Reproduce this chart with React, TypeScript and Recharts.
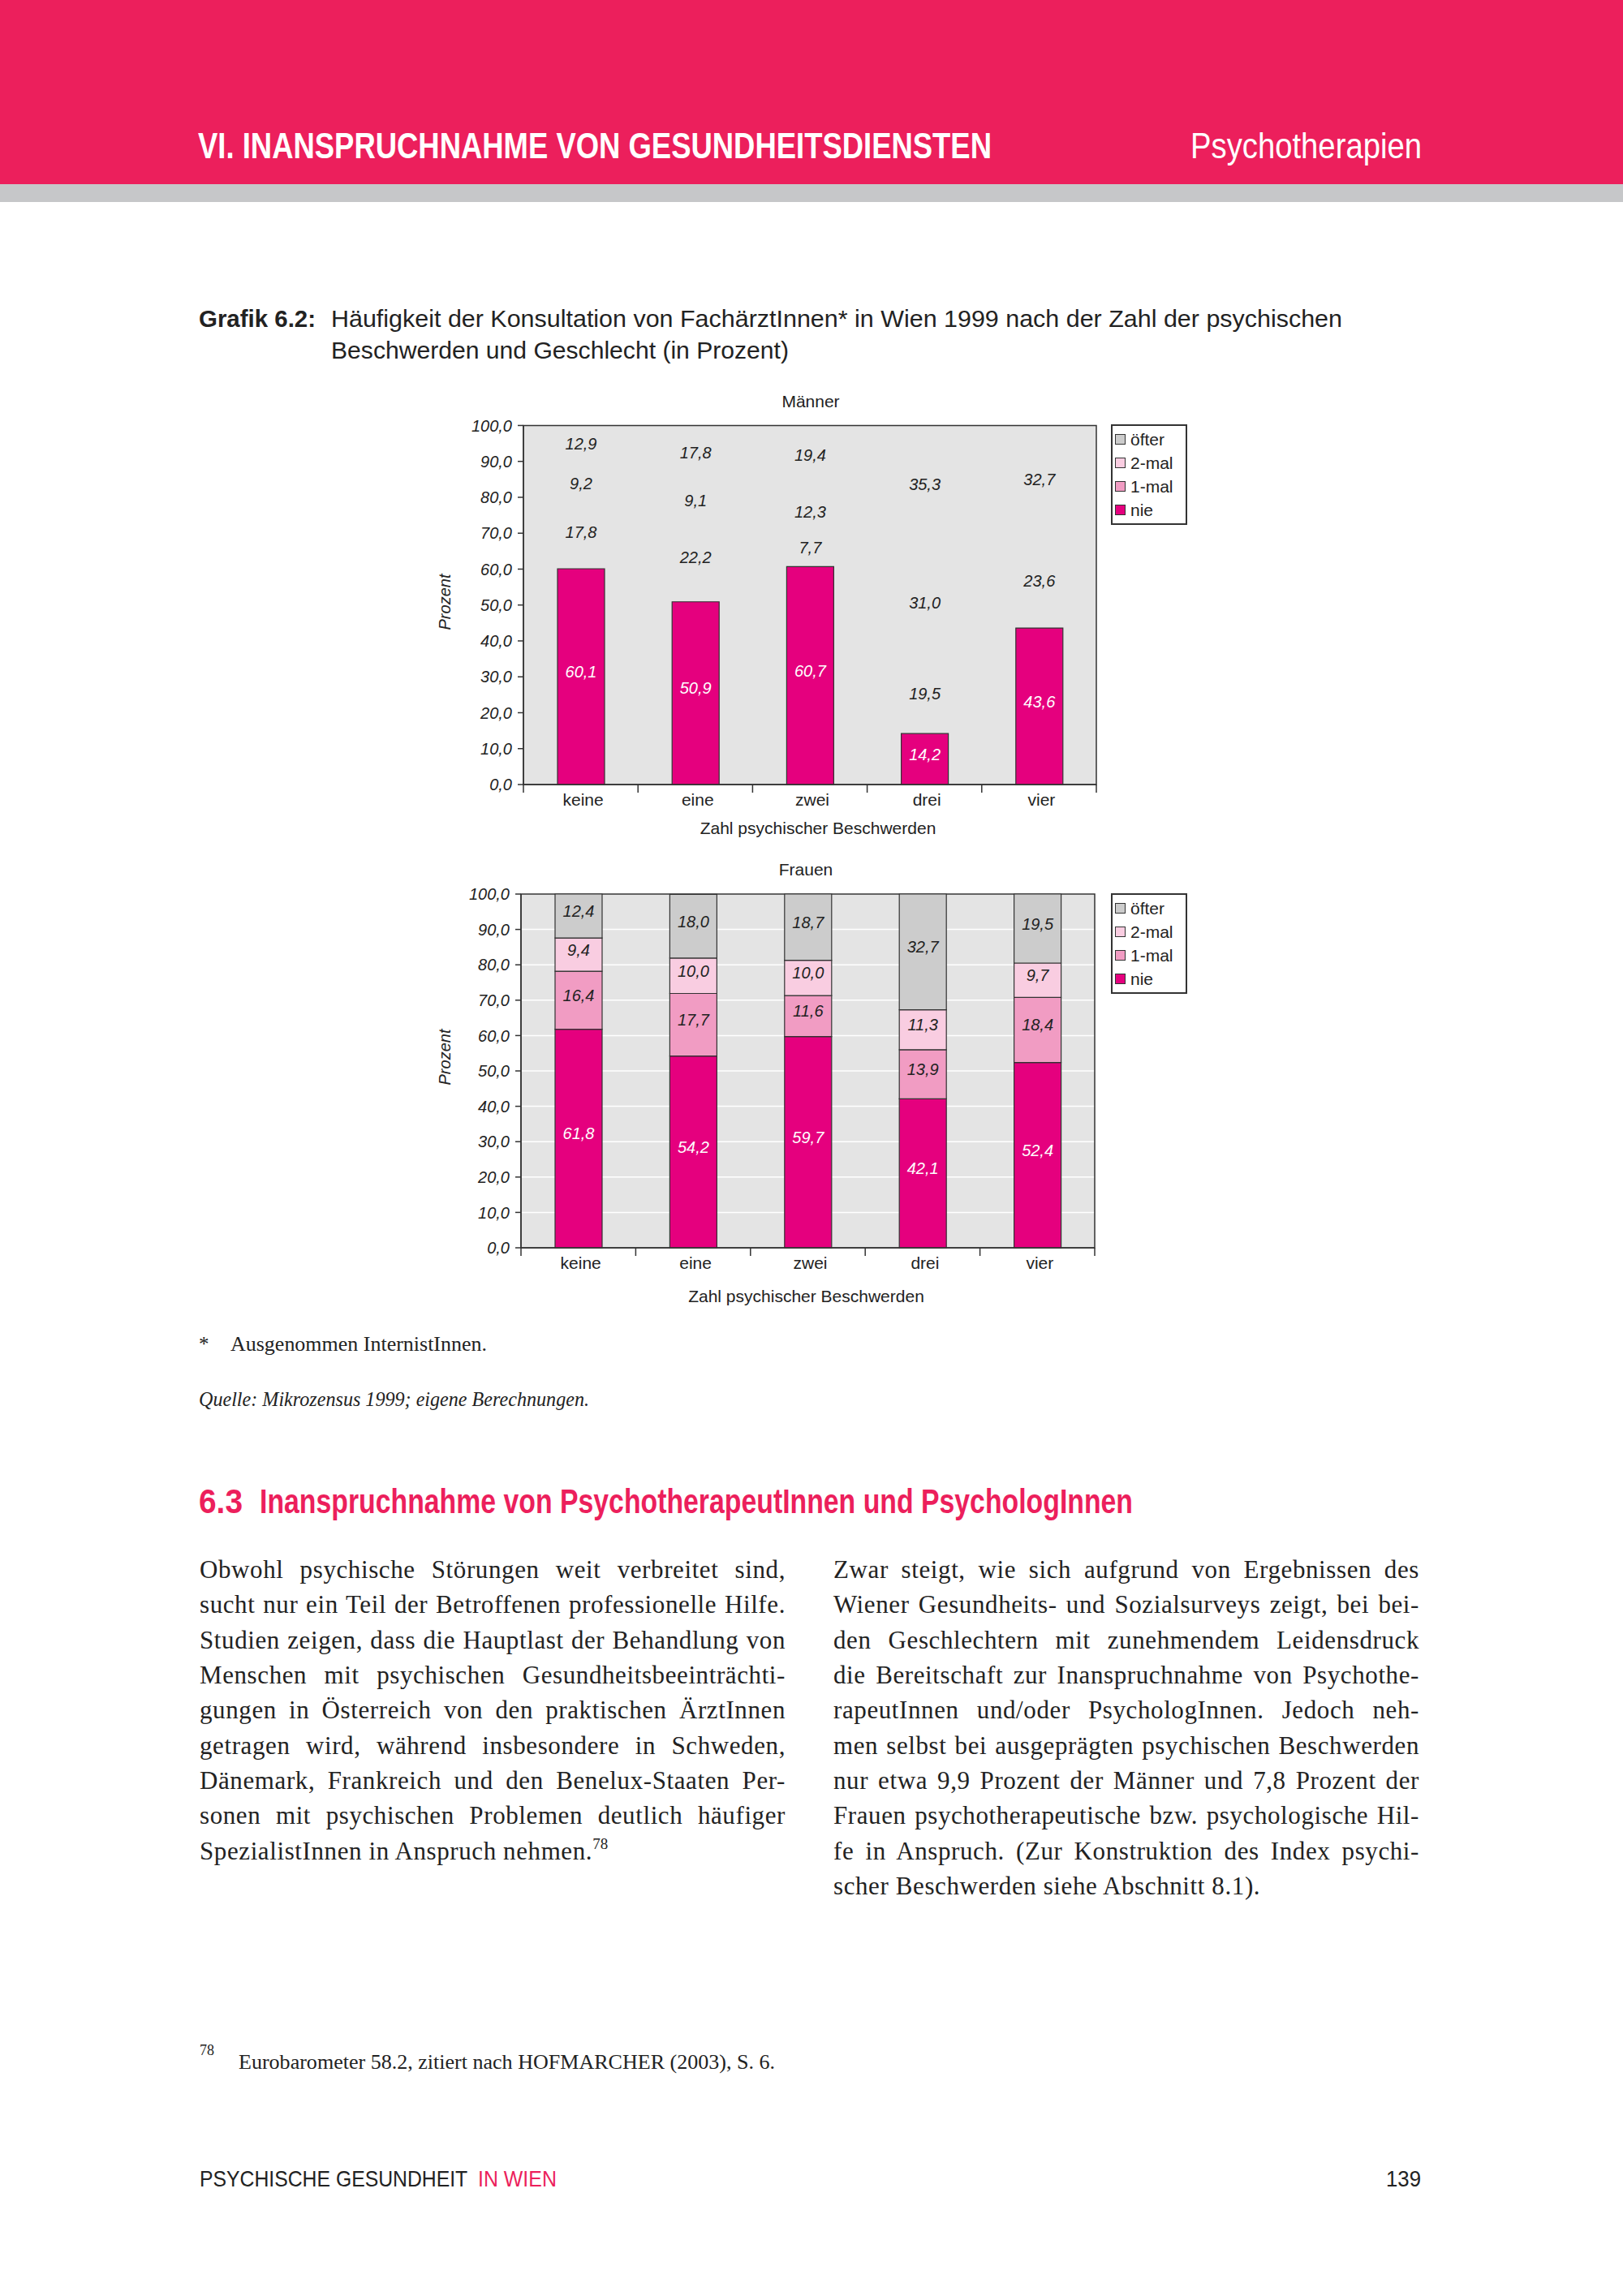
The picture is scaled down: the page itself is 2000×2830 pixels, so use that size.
import React from 'react';
import { BarChart, Bar, XAxis, YAxis, CartesianGrid, LabelList, Legend, ReferenceArea, Label } from 'recharts';

// ---------- data ----------
const categories = ['keine', 'eine', 'zwei', 'drei', 'vier'];

const menNie = [60.1, 50.9, 60.7, 14.2, 43.6];
const menEinmal = [17.8, 22.2, 7.7, 19.5, 23.6];
const menZweimal = [9.2, 9.1, 12.3, 31.0, 0.0];
const menOefter = [12.9, 17.8, 19.4, 35.3, 32.7];

const womenNie = [61.8, 54.2, 59.7, 42.1, 52.4];
const womenEinmal = [16.4, 17.7, 11.6, 13.9, 18.4];
const womenZweimal = [9.4, 10.0, 10.0, 11.3, 9.7];
const womenOefter = [12.4, 18.0, 18.7, 32.7, 19.5];

const yTicks = [0, 10, 20, 30, 40, 50, 60, 70, 80, 90, 100];
const seriesKeys = ['nie', 'einmal', 'zweimal', 'oefter'];
const seriesNames = ['nie', '1-mal', '2-mal', 'öfter'];

const leftLines = [
  'Obwohl psychische Störungen weit verbreitet sind,',
  'sucht nur ein Teil der Betroffenen professionelle Hilfe.',
  'Studien zeigen, dass die Hauptlast der Behandlung von',
  'Menschen mit psychischen Gesundheitsbeeinträchti-',
  'gungen in Österreich von den praktischen ÄrztInnen',
  'getragen wird, während insbesondere in Schweden,',
  'Dänemark, Frankreich und den Benelux-Staaten Per-',
  'sonen mit psychischen Problemen deutlich häufiger',
  'SpezialistInnen in Anspruch nehmen.',
];
const rightLines = [
  'Zwar steigt, wie sich aufgrund von Ergebnissen des',
  'Wiener Gesundheits- und Sozialsurveys zeigt, bei bei-',
  'den Geschlechtern mit zunehmendem Leidensdruck',
  'die Bereitschaft zur Inanspruchnahme von Psychothe-',
  'rapeutInnen und/oder PsychologInnen. Jedoch neh-',
  'men selbst bei ausgeprägten psychischen Beschwerden',
  'nur etwa 9,9 Prozent der Männer und 7,8 Prozent der',
  'Frauen psychotherapeutische bzw. psychologische Hil-',
  'fe in Anspruch. (Zur Konstruktion des Index psychi-',
  'scher Beschwerden siehe Abschnitt 8.1).',
];

// ---------- styles ----------
const SANS = '"Liberation Sans", Arial, Helvetica, sans-serif';
const SERIF = '"Liberation Serif", "Times New Roman", serif';
const PINK = '#EC1F5C';
const COLORS: Record<string, string> = {
  nie: '#E5007E',
  einmal: '#F19CC3',
  zweimal: '#F9CDE1',
  oefter: '#CCCCCC',
};
const PLOT_BG = '#E4E4E4';
const DARK = '#333333';

const fmt = (v: number) => Number(v).toFixed(1).replace('.', ',');

const buildData = (a: number[], b: number[], c: number[], d: number[]) =>
  categories.map((cat, i) => ({ cat, nie: a[i], einmal: b[i], zweimal: c[i], oefter: d[i] }));

const menData = buildData(menNie, menEinmal, menZweimal, menOefter);
const womenData = buildData(womenNie, womenEinmal, womenZweimal, womenOefter);

const makeBarLabel = (color: string) => (props: any) => {
  const { x, y, width, height, value } = props;
  const v = Number(value);
  const cx = Number(x) + Number(width) / 2 + (v === 0 ? 49 : 0);
  const cy = Number(y) + Number(height) / 2 - 6;
  return (
    <text x={cx} y={cy} textAnchor="middle" dominantBaseline="central" fill={color}
      fontSize={20} fontStyle="italic" fontFamily={SANS}>
      {fmt(v)}
    </text>
  );
};

const LegendBox = (props: any) => {
  const payload: any[] = props.payload || [];
  const nameOf = (k: string) => {
    const p = payload.find((it: any) => String(it.dataKey) === k);
    return p ? p.value : seriesNames[seriesKeys.indexOf(k)];
  };
  const order = [...seriesKeys].reverse();
  return (
    <div style={{
      border: `2px solid ${DARK}`, background: '#fff', width: 94, boxSizing: 'border-box',
      padding: '2px 0 2px 3px', fontFamily: SANS, fontSize: 21, lineHeight: '29px', color: '#222',
    }}>
      {order.map((k) => (
        <div key={k} style={{ whiteSpace: 'nowrap', height: 29 }}>
          <span style={{
            display: 'inline-block', width: 11, height: 11, background: COLORS[k],
            border: `1.5px solid ${DARK}`, marginRight: 6, verticalAlign: 'middle', position: 'relative', top: -2,
          }} />
          {nameOf(k)}
        </div>
      ))}
    </div>
  );
};

type ChartCfg = {
  data: any[];
  showUpper: boolean;
  grid: boolean;
  top: number;
  right: number;
  yWidth: number;
  xHeight: number;
  legendTop: number;
  prozentY: number;
  xLabelDx: number;
  xLabelDy: number;
};

const StackChart = ({ cfg }: { cfg: ChartCfg }) => {
  const plotW = 960 - cfg.yWidth - cfg.right;
  const catW = plotW / categories.length;

  const XTick = (props: any) => {
    const { x, y, index, payload } = props;
    const last = index === categories.length - 1;
    return (
      <g>
        <line x1={x - catW / 2} x2={x - catW / 2} y1={y} y2={y + 10} stroke={DARK} strokeWidth={1.5} />
        {last && <line x1={x + catW / 2} x2={x + catW / 2} y1={y} y2={y + 10} stroke={DARK} strokeWidth={1.5} />}
        <text x={x + 3} y={y + 26} textAnchor="middle" fill="#222" fontSize={21} fontFamily={SANS}>
          {payload.value}
        </text>
      </g>
    );
  };

  const XLabel = (props: any) => {
    const vb = props.viewBox || {};
    return (
      <text x={vb.x + vb.width / 2 + cfg.xLabelDx} y={vb.y + cfg.xLabelDy} textAnchor="middle"
        fill="#222" fontSize={21} fontFamily={SANS}>
        Zahl psychischer Beschwerden
      </text>
    );
  };

  const YLabel = () => (
    <text x={28} y={cfg.prozentY} transform={`rotate(-90, 28, ${cfg.prozentY})`} textAnchor="middle"
      dominantBaseline="central" fill="#222" fontSize={20} fontStyle="italic" fontFamily={SANS}>
      Prozent
    </text>
  );

  return (
    <BarChart width={960} height={570} data={cfg.data}
      margin={{ top: cfg.top, right: cfg.right, left: 0, bottom: 0 }} barSize={58}>
      <CartesianGrid vertical={false} horizontal={cfg.grid} stroke="#FFFFFF" strokeWidth={1.5} fill={PLOT_BG} fillOpacity={1} />
      <XAxis dataKey="cat" height={cfg.xHeight} tickLine={false} tickSize={0} tickMargin={0}
        axisLine={{ stroke: DARK, strokeWidth: 1.5 }} tick={<XTick />} interval={0}
        label={<Label content={<XLabel />} />} />
      <YAxis domain={[0, 100]} ticks={yTicks} tickFormatter={fmt} width={cfg.yWidth} interval={0}
        tickSize={7} tickMargin={7} axisLine={{ stroke: DARK, strokeWidth: 1.5 }}
        tickLine={{ stroke: DARK, strokeWidth: 1.5 }}
        tick={{ fill: '#222', fontSize: 20, fontStyle: 'italic', fontFamily: SANS }}
        label={<Label content={<YLabel />} />} />
      {seriesKeys.map((k, i) => {
        const visible = cfg.showUpper || k === 'nie';
        return (
          <Bar key={k} dataKey={k} name={seriesNames[i]} stackId="a" isAnimationActive={false}
            fill={visible ? COLORS[k] : 'transparent'} stroke={visible ? DARK : 'none'} strokeWidth={1.2}>
            <LabelList dataKey={k} content={makeBarLabel(k === 'nie' ? '#FFFFFF' : '#222')} />
          </Bar>
        );
      })}
      <ReferenceArea y1={0} y2={100} fill="none" stroke={DARK} strokeWidth={1.5} ifOverflow="visible" />
      <Legend layout="vertical" align="center" verticalAlign="middle" content={<LegendBox />}
        wrapperStyle={{ left: 849, top: cfg.legendTop, width: 94 }} />
    </BarChart>
  );
};

const menCfg: ChartCfg = {
  data: menData, showUpper: false, grid: false, top: 54, right: 129, yWidth: 125, xHeight: 73,
  legendTop: 53, prozentY: 272, xLabelDx: 10, xLabelDy: 61,
};
const womenCfg: ChartCfg = {
  data: womenData, showUpper: true, grid: true, top: 52, right: 131, yWidth: 122, xHeight: 82,
  legendTop: 51, prozentY: 253, xLabelDx: -2, xLabelDy: 67,
};

const BodyColumn = ({ lines, left, sup }: { lines: string[]; left: number; sup?: string }) => (
  <div style={{
    position: 'absolute', left, top: 1913, width: 722, fontFamily: SERIF, fontSize: 31, color: '#222',
    letterSpacing: '0.6px',
  }}>
    {lines.map((l, i) => {
      const last = i === lines.length - 1;
      return (
        <div key={i} style={{
          height: 43.33, lineHeight: '43.33px', whiteSpace: 'nowrap', textAlign: last ? 'left' : 'justify',
          textAlignLast: last ? 'left' : 'justify',
        } as React.CSSProperties}>
          {l}
          {last && sup ? <span style={{ fontSize: 19, position: 'relative', top: -13, letterSpacing: 0 }}>{sup}</span> : null}
        </div>
      );
    })}
  </div>
);

export default function App() {
  return (
    <div style={{ position: 'absolute', left: 0, top: 0, width: 2000, height: 2830, background: '#fff', overflow: 'hidden' }}>
      <svg width={2000} height={2830} style={{ position: 'absolute', left: 0, top: 0 }}>
        <rect x={0} y={0} width={2000} height={227} fill={PINK} />
        <rect x={0} y={227} width={2000} height={22} fill="#C6C7C9" />
        <text x={244} y={195} fontFamily={SANS} fontWeight="bold" fontSize={44} fill="#fff"
          textLength={978} lengthAdjust="spacingAndGlyphs">VI. INANSPRUCHNAHME VON GESUNDHEITSDIENSTEN</text>
        <text x={1467} y={195} fontFamily={SANS} fontSize={44} fill="#fff"
          textLength={285} lengthAdjust="spacingAndGlyphs">Psychotherapien</text>

        <text x={245} y={403} fontFamily={SANS} fontWeight="bold" fontSize={29} fill="#222"
          textLength={144} lengthAdjust="spacingAndGlyphs">Grafik 6.2:</text>
        <text x={408} y={403} fontFamily={SANS} fontSize={29} fill="#222"
          textLength={1246} lengthAdjust="spacingAndGlyphs">Häufigkeit der Konsultation von FachärztInnen* in Wien 1999 nach der Zahl der psychischen</text>
        <text x={408} y={442} fontFamily={SANS} fontSize={29} fill="#222"
          textLength={564} lengthAdjust="spacingAndGlyphs">Beschwerden und Geschlecht (in Prozent)</text>

        <text x={999} y={502} textAnchor="middle" fontFamily={SANS} fontSize={21} fill="#222">Männer</text>
        <text x={993} y={1079} textAnchor="middle" fontFamily={SANS} fontSize={21} fill="#222">Frauen</text>

        <text x={245} y={1665} fontFamily={SERIF} fontSize={25} fill="#222">*</text>
        <text x={284} y={1665} fontFamily={SERIF} fontSize={25} fill="#222"
          textLength={316} lengthAdjust="spacingAndGlyphs">Ausgenommen InternistInnen.</text>
        <text x={245} y={1733} fontFamily={SERIF} fontStyle="italic" fontSize={25} fill="#222"
          textLength={481} lengthAdjust="spacingAndGlyphs">Quelle:  Mikrozensus 1999; eigene Berechnungen.</text>

        <text x={245} y={1865} fontFamily={SANS} fontWeight="bold" fontSize={43} fill={PINK}
          textLength={54} lengthAdjust="spacingAndGlyphs">6.3</text>
        <text x={320} y={1865} fontFamily={SANS} fontWeight="bold" fontSize={43} fill={PINK}
          textLength={1076} lengthAdjust="spacingAndGlyphs">Inanspruchnahme von PsychotherapeutInnen und PsychologInnen</text>

        <text x={246} y={2533} fontFamily={SERIF} fontSize={18} fill="#222">78</text>
        <text x={294} y={2550} fontFamily={SERIF} fontSize={25} fill="#222"
          textLength={661} lengthAdjust="spacingAndGlyphs">Eurobarometer 58.2, zitiert nach HOFMARCHER (2003), S. 6.</text>

        <text x={0} y={0} transform="translate(246,2695) scale(0.885,1)" fontFamily={SANS} fontSize={28} fill="#222">PSYCHISCHE GESUNDHEIT</text>
        <text x={0} y={0} transform="translate(589,2695) scale(0.89,1)" fontFamily={SANS} fontSize={28} fill={PINK}>IN WIEN</text>
        <text x={0} y={0} transform="translate(1708,2695) scale(0.92,1)" fontFamily={SANS} fontSize={28} fill="#222">139</text>
      </svg>

      <div style={{ position: 'absolute', left: 520, top: 470 }}>
        <StackChart cfg={menCfg} />
      </div>
      <div style={{ position: 'absolute', left: 520, top: 1050 }}>
        <StackChart cfg={womenCfg} />
      </div>

      <BodyColumn lines={leftLines} left={246} sup="78" />
      <BodyColumn lines={rightLines} left={1027} />
    </div>
  );
}
